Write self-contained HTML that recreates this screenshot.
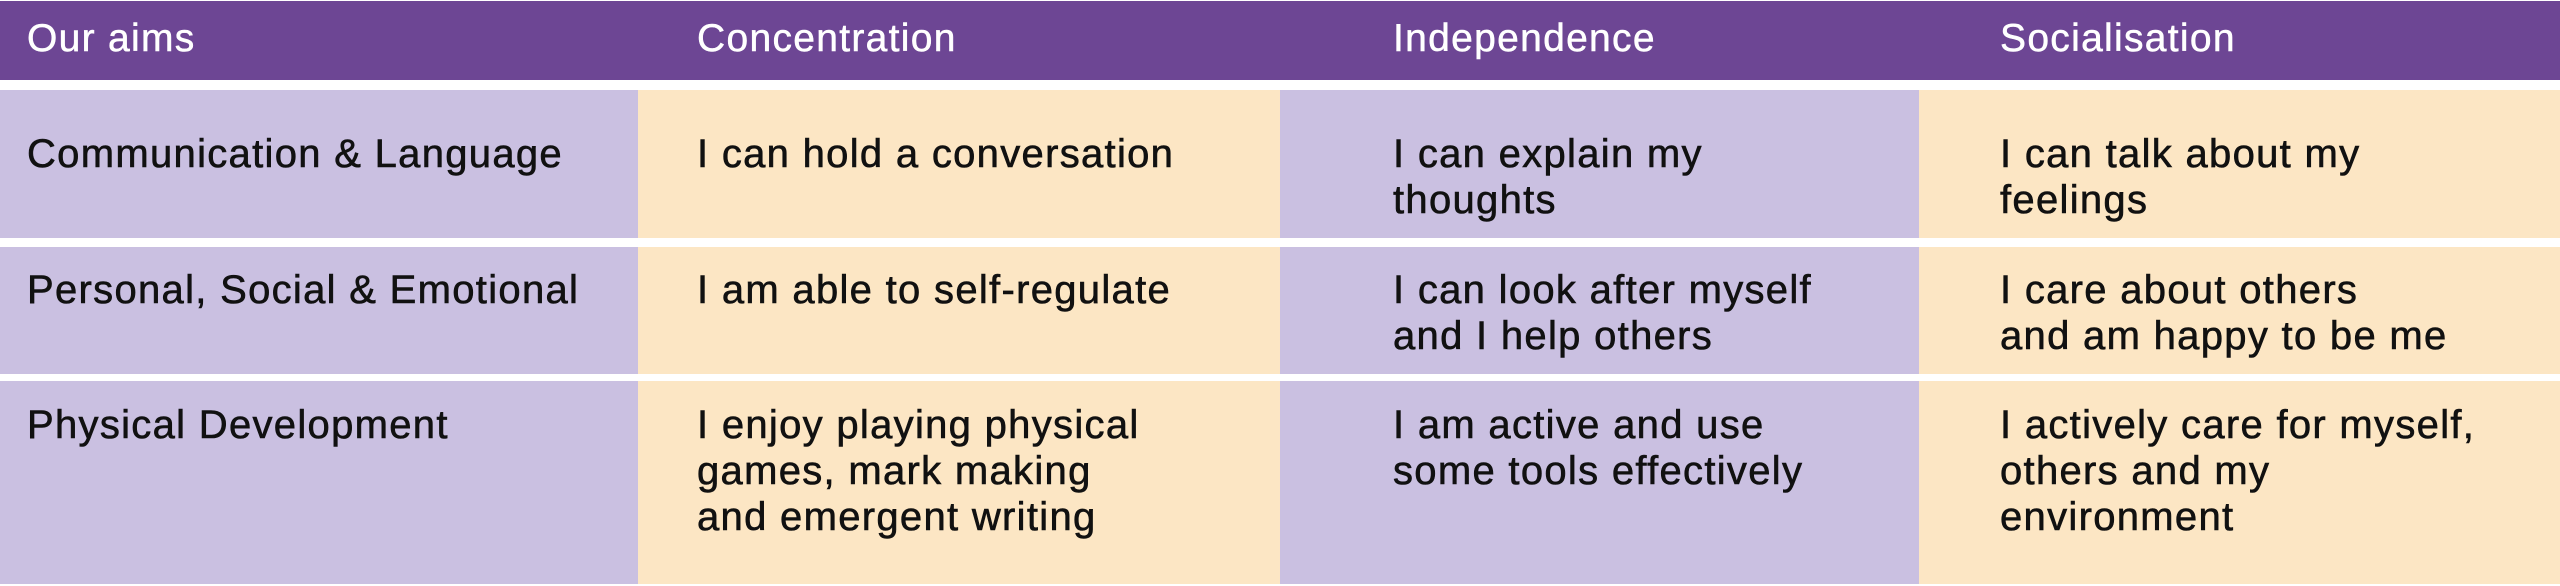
<!DOCTYPE html>
<html><head><meta charset="utf-8"><style>
*{margin:0;padding:0;box-sizing:border-box}
body{width:2560px;height:586px;background:#fff;position:relative;overflow:hidden;font-family:"Liberation Sans",sans-serif}
.b{position:absolute}
.h{background:#6d4694}
.l{background:#cac0e1}
.p{background:#fce6c4}
.t{position:absolute;font-size:40px;line-height:46px;color:#111;letter-spacing:1.3px;white-space:nowrap;-webkit-text-stroke:0.6px #111}
.ht{position:absolute;font-size:39px;line-height:44px;color:#fff;letter-spacing:1.3px;white-space:nowrap;-webkit-text-stroke:0.5px #fff}
</style></head><body>
<div class="b h" style="left:0;top:1px;width:2560px;height:79px"></div>
<div class="ht" style="left:27px;top:17px">Our aims</div>
<div class="ht" style="left:697px;top:17px">Concentration</div>
<div class="ht" style="left:1393px;top:17px">Independence</div>
<div class="ht" style="left:2000px;top:17px">Socialisation</div>

<div class="b l" style="left:0;top:90px;width:638px;height:148px"></div>
<div class="b p" style="left:638px;top:90px;width:642px;height:148px"></div>
<div class="b l" style="left:1280px;top:90px;width:639px;height:148px"></div>
<div class="b p" style="left:1919px;top:90px;width:641px;height:148px"></div>

<div class="b l" style="left:0;top:247px;width:638px;height:127px"></div>
<div class="b p" style="left:638px;top:247px;width:642px;height:127px"></div>
<div class="b l" style="left:1280px;top:247px;width:639px;height:127px"></div>
<div class="b p" style="left:1919px;top:247px;width:641px;height:127px"></div>

<div class="b l" style="left:0;top:381px;width:638px;height:203px"></div>
<div class="b p" style="left:638px;top:381px;width:642px;height:203px"></div>
<div class="b l" style="left:1280px;top:381px;width:639px;height:203px"></div>
<div class="b p" style="left:1919px;top:381px;width:641px;height:203px"></div>

<div class="t" style="left:27px;top:131px">Communication &amp; Language</div>
<div class="t" style="left:697px;top:131px">I can hold a conversation</div>
<div class="t" style="left:1393px;top:131px">I can explain my<br>thoughts</div>
<div class="t" style="left:2000px;top:131px">I can talk about my<br>feelings</div>

<div class="t" style="left:27px;top:267px">Personal, Social &amp; Emotional</div>
<div class="t" style="left:697px;top:267px">I am able to self-regulate</div>
<div class="t" style="left:1393px;top:267px">I can look after myself<br>and I help others</div>
<div class="t" style="left:2000px;top:267px">I care about others<br>and am happy to be me</div>

<div class="t" style="left:27px;top:402px">Physical Development</div>
<div class="t" style="left:697px;top:402px">I enjoy playing physical<br>games, mark making<br>and emergent writing</div>
<div class="t" style="left:1393px;top:402px">I am active and use<br>some tools effectively</div>
<div class="t" style="left:2000px;top:402px">I actively care for myself,<br>others and my<br>environment</div>
</body></html>
